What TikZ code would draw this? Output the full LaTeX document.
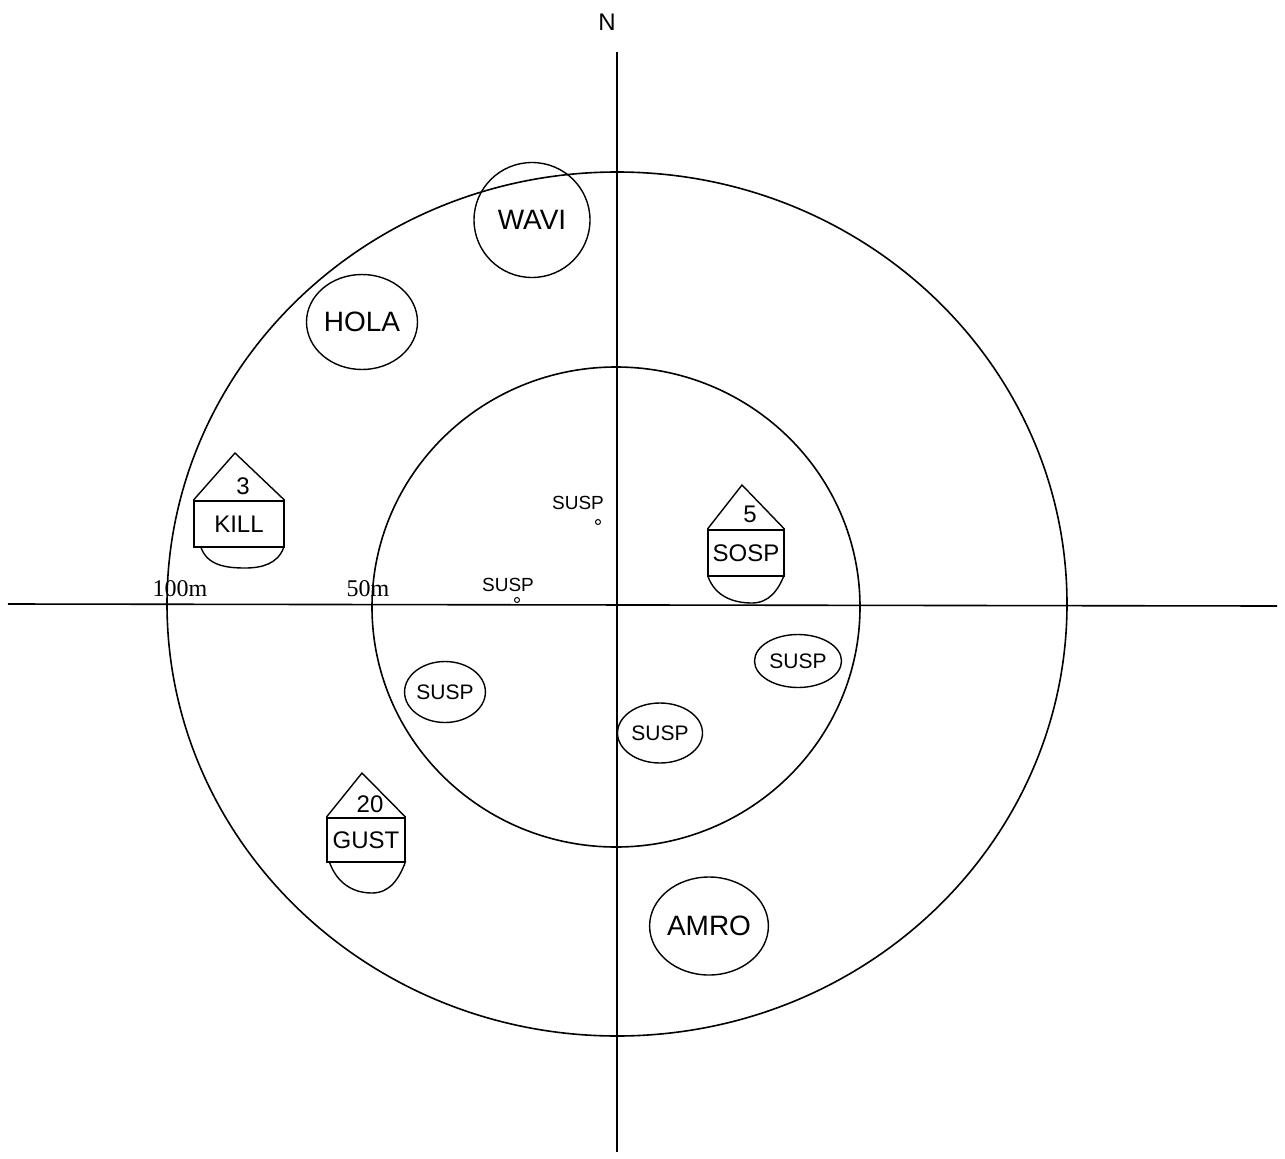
\documentclass[tikz,border=0pt]{standalone}
\usepackage{fontspec}
\setmainfont{Liberation Serif}
\setsansfont{Liberation Sans}
\usetikzlibrary{shapes.geometric}

\begin{document}
\begin{tikzpicture}[
  x=1pt, y=-1pt,
  ring/.style={line width=1.6pt, draw=black},
  axis/.style={line width=1.6pt, draw=black},
  spot/.style={ellipse, draw=black, line width=1.4pt, inner sep=0pt, font=\sffamily\fontsize{28}{30}\selectfont},
  smallspot/.style={spot, font=\sffamily\fontsize{21}{23}\selectfont},
  tag/.style={rectangle, draw=black, line width=1.4pt, inner sep=0pt, font=\sffamily\fontsize{24}{26}\selectfont},
  hand/.style={inner sep=0pt, font=\sffamily\fontsize{19}{21}\selectfont},
  dist/.style={inner sep=0pt, anchor=base, font=\fontsize{24}{26}\selectfont},
  dot/.style={circle, draw=black, line width=1pt, inner sep=0pt, minimum size=5pt}
]
  \useasboundingbox (0,0) rectangle (1285,1159);

  % Ejes
  \coordinate (ntop) at (617,52);
  \coordinate (sbot) at (617,1152);
  \coordinate (west) at (8,604);
  \coordinate (east) at (1277,606);
  \draw[axis] (ntop) -- (sbot);
  \draw[axis] (west) -- (east);
  \node[font=\sffamily\fontsize{24}{26}\selectfont] (north) at (607,22) {N};

  % Anillos de 100m y 50m
  \draw[ring] (617,604) ellipse [x radius=450pt, y radius=432pt];
  \draw[ring] (616,607) ellipse [x radius=244pt, y radius=240pt];

  \node[dist] (d100) at (180,596) {100m};
  \node[dist] (d50) at (368,596) {50m};

  % Etiquetas rodeadas
  \foreach \nm/\px/\py/\w/\h/\lab in {wavi/532/220/116/115/WAVI, hola/362/322/111/95/HOLA, amro/709/926/102/98/AMRO} {
    \node[spot, minimum width=\w, minimum height=\h] (\nm) at (\px,\py) {\lab};
  }
  \foreach \nm/\px/\py/\w/\h in {susp1/798/661/87/53, susp2/445/692/66/61, susp3/660/733/85/60} {
    \node[smallspot, minimum width=\w, minimum height=\h] (\nm) at (\px,\py) {SUSP};
  }

  % Etiquetas sueltas con punto
  \node[hand] (susp4) at (578,503) {SUSP};
  \node[dot] (p4) at (598,522) {};
  \node[hand] (susp5) at (508,585) {SUSP};
  \node[dot] (p5) at (517,600) {};

  % Marcas con triangulo, caja y lobulo
  \foreach \nm/\bx/\by/\bw/\bh/\ty/\ny/\ly/\num/\lab in {kill/239/524/90/46/453/486/568/3/KILL, sosp/746/553/76/46/485/514/603/5/SOSP, gust/366/840/78/44/773/804/893/20/GUST} {
    \node[tag, minimum width=\bw, minimum height=\bh] (\nm) at (\bx,\by) {\lab};
    \coordinate (\nm-top) at (\bx-4,\ty);
    \coordinate (\nm-lobe) at (\bx+6,\ly);
    \node[tag, draw=none] (\nm-num) at (\bx+4,\ny) {\num};
    \draw[line width=1.4pt] (\nm.north west) -- (\nm-top) -- (\nm.north east);
    \draw[line width=1.4pt] (\nm.212) to[out=-70,in=180] (\nm-lobe) to[out=0,in=-110] (\nm.-28);
  }
\end{tikzpicture}
\end{document}
